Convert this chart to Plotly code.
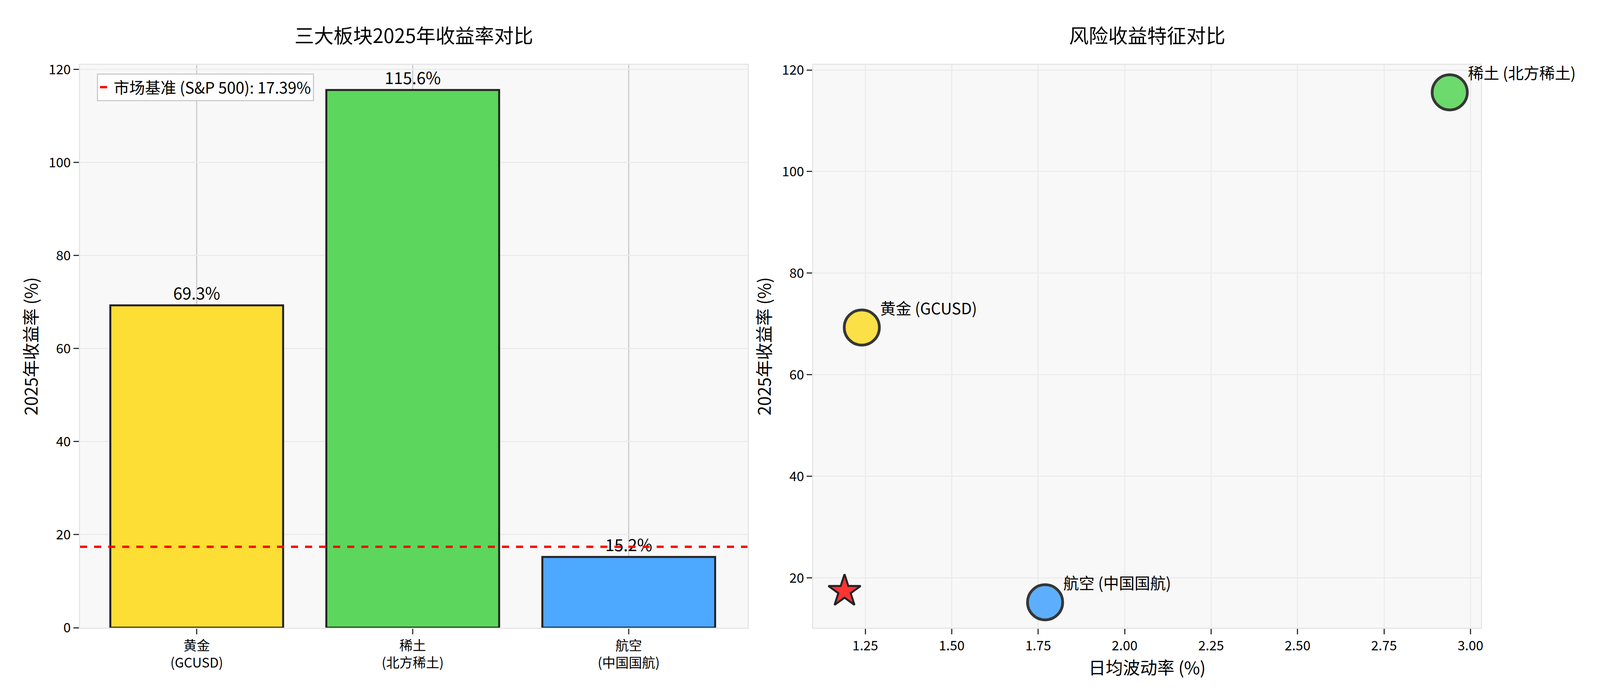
import plotly.graph_objects as go
from plotly.subplots import make_subplots

categories = ["黄金<br>(GCUSD)", "稀土<br>(北方稀土)", "航空<br>(中国国航)"]
returns = [69.3, 115.6, 15.2]
colors = ["#FCDE34", "#5CD65C", "#4DA8FF"]
scatter_names = ["黄金 (GCUSD)", "稀土 (北方稀土)", "航空 (中国国航)"]
volatility = [1.24, 2.94, 1.77]
market_return = 17.39
market_vol = 1.19

FONT = "Noto Sans CJK SC"

fig = make_subplots(rows=1, cols=2, horizontal_spacing=0.047,
                    subplot_titles=["三大板块2025年收益率对比", "风险收益特征对比"])

fig.add_trace(go.Bar(x=[0, 1, 2], y=returns, width=0.8,
                     marker=dict(color=colors, line=dict(color="#222", width=5)),
                     text=[f"{v}%" for v in returns], textposition="outside",
                     textfont=dict(size=42, color="black"), cliponaxis=False,
                     showlegend=False), 1, 1)
fig.add_trace(go.Scatter(x=[-0.54, 2.55], y=[market_return] * 2, mode="lines",
                         line=dict(color="red", width=6, dash="dash"),
                         name=f"市场基准 (S&P 500): {market_return}%"), 1, 1)

fig.add_trace(go.Scatter(x=volatility, y=returns, mode="markers",
                         marker=dict(size=90, color=colors, opacity=0.9,
                                     line=dict(color="#222", width=7)),
                         showlegend=False), 1, 2)
fig.add_trace(go.Scatter(x=[market_vol], y=[market_return], mode="markers",
                         marker=dict(symbol="star", size=62, color="#FF3333",
                                     line=dict(color="#222", width=5)),
                         showlegend=False), 1, 2)

for x, y, t in zip(volatility, returns, scatter_names):
    fig.add_annotation(x=x, y=y, text=t, xref="x2", yref="y2", showarrow=False,
                       xanchor="left", yanchor="bottom", xshift=45, yshift=20,
                       font=dict(size=40, family=FONT, color="black"))
fig.add_annotation(x=1.03, y=12, text="市场基准", xref="x2", yref="y2", showarrow=False,
                   font=dict(size=36, family=FONT, color="red"))

axis_common = dict(showline=True, linecolor="#e6e6e6", linewidth=3, mirror=True,
                   ticks="outside", ticklen=14, tickwidth=3, tickcolor="#333",
                   tickfont=dict(size=34), zeroline=False)
fig.update_xaxes(axis_common)
fig.update_yaxes(axis_common)
fig.update_xaxes(row=1, col=1, range=[-0.54, 2.55], tickvals=[0, 1, 2], ticktext=categories,
                 showgrid=True, gridcolor="#cccccc", gridwidth=3)
fig.update_yaxes(row=1, col=1, range=[0, 121], dtick=20, gridcolor="#ececec", gridwidth=3,
                 title=dict(text="2025年收益率 (%)", font=dict(size=44)))
fig.update_xaxes(row=1, col=2, range=[1.10, 3.03], dtick=0.25, tickformat=".2f",
                 gridcolor="#ececec", gridwidth=3,
                 title=dict(text="日均波动率 (%)", font=dict(size=44)))
fig.update_yaxes(row=1, col=2, range=[10.2, 121], dtick=20, gridcolor="#ececec", gridwidth=3,
                 title=dict(text="2025年收益率 (%)", font=dict(size=44)))

for a in fig.layout.annotations[:2]:
    a.font = dict(size=50, family=FONT, color="black")
    a.yshift = 40

fig.update_layout(autosize=True, paper_bgcolor="white", plot_bgcolor="#f8f8f8",
                  font=dict(family=FONT, color="black"),
                  margin=dict(l=197, r=297, t=158, b=170),
                  legend=dict(x=0.012, y=0.985, xanchor="left", yanchor="top",
                              bgcolor="rgba(255,255,255,0.8)", bordercolor="#cccccc",
                              borderwidth=3, font=dict(size=40)))

fig.write_html("out.html", default_width="100%", default_height="100vh",
               config={"responsive": True})
